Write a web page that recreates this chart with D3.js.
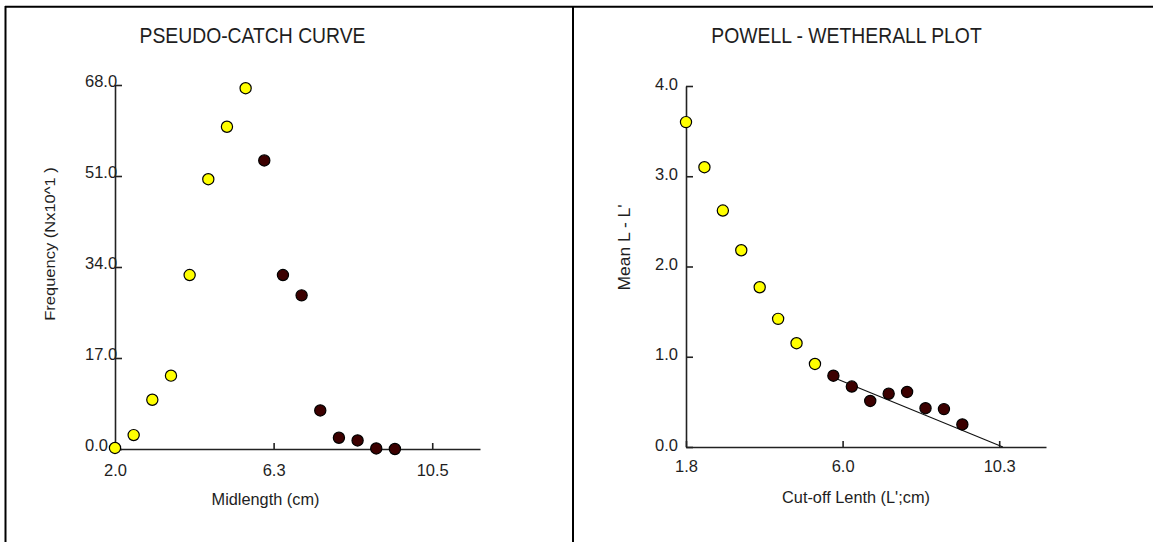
<!DOCTYPE html>
<html>
<head>
<meta charset="utf-8">
<script src="https://cdn.jsdelivr.net/npm/d3@7"></script>
<style>
  body { margin: 0; background: #fff; }
  svg text { font-family: "Liberation Sans", Arial, sans-serif; fill: #1e1e1e; }
</style>
</head>
<body>
<div id="chart"></div>
<script>
// Pseudo-catch curve (left panel)
const catchXTicks = [2.0, 6.25, 10.5];
const catchXTickLabels = ['2.0', '6.3', '10.5'];
const catchYTicks = [0, 17, 34, 51, 68];
const catchOpenX = [2.0, 2.5, 3.0, 3.5, 4.0, 4.5, 5.0, 5.5];
const catchOpenY = [0.2, 2.6, 9.2, 13.7, 32.5, 50.4, 60.2, 67.4];
const catchUsedX = [6.0, 6.5, 7.0, 7.5, 8.0, 8.5, 9.0, 9.5];
const catchUsedY = [53.9, 32.5, 28.7, 7.2, 2.1, 1.6, 0.1, 0.0];

// Powell - Wetherall plot (right panel)
const pwXTicks = [1.75, 6.0, 10.25];
const pwXTickLabels = ['1.8', '6.0', '10.3'];
const pwYTicks = [0, 1, 2, 3, 4];
const pwOpenX = [1.75, 2.25, 2.75, 3.25, 3.75, 4.25, 4.75, 5.25];
const pwOpenY = [3.60, 3.10, 2.62, 2.18, 1.77, 1.42, 1.15, 0.92];
const pwUsedX = [5.75, 6.25, 6.75, 7.25, 7.75, 8.25, 8.75, 9.25];
const pwUsedY = [0.79, 0.67, 0.51, 0.59, 0.61, 0.43, 0.42, 0.25];
const pwFitX = [5.75, 10.35];
const pwFitY = [0.77, 0.0];

const width = 1153, height = 542;
const svg = d3.select('#chart').append('svg')
    .attr('width', width)
    .attr('height', height);

// outer frame and divider
const frame = svg.append('g').attr('stroke', '#000').attr('stroke-width', 2);
frame.append('line').attr('x1', 5).attr('x2', width).attr('y1', 6.8).attr('y2', 6.8);
frame.append('line').attr('x1', 5.5).attr('x2', 5.5).attr('y1', 6).attr('y2', height);
frame.append('line').attr('x1', 573).attr('x2', 573).attr('y1', 6).attr('y2', height);

function label(g, str, x, y, size, sx, rot) {
    let t = `translate(${x},${y})`;
    if (rot) t += ` rotate(${rot}) scale(1,${sx})`;
    else t += ` scale(${sx},1)`;
    return g.append('text')
        .attr('transform', t)
        .attr('text-anchor', 'middle')
        .attr('font-size', size)
        .text(str);
}

function panel(p) {
    const g = svg.append('g');
    const x = d3.scaleLinear().domain(p.xDomain).range([p.left, p.right]);
    const y = d3.scaleLinear().domain(p.yDomain).range([p.bottom, p.top]);

    // axes
    const xAxis = g.append('g')
        .attr('transform', `translate(0,${p.bottom})`)
        .call(d3.axisBottom(x).tickValues(p.xTicks).tickSize(-6).tickSizeOuter(0)
            .tickFormat((d, i) => p.xLabels[i]));
    const yAxis = g.append('g')
        .attr('transform', `translate(${p.left},0)`)
        .call(d3.axisLeft(y).tickValues(p.yTicks).tickSize(-7).tickSizeOuter(0)
            .tickFormat(d3.format('.1f')));

    [xAxis, yAxis].forEach(a => {
        a.attr('font-family', null).attr('font-size', null);
        a.selectAll('path, line').attr('stroke', '#222').attr('stroke-width', 1.6);
        a.selectAll('text').attr('font-size', 16.5).attr('fill', '#1e1e1e');
    });
    xAxis.selectAll('text').attr('y', p.xLabelDy).attr('dy', null);
    yAxis.selectAll('text').attr('x', -p.yLabelOff).attr('y', p.yLabelDy)
        .attr('dy', null).attr('text-anchor', 'start');

    // fitted line
    if (p.fitX) {
        g.append('path')
            .datum(p.fitX.map((v, i) => [v, p.fitY[i]]))
            .attr('fill', 'none')
            .attr('stroke', '#111')
            .attr('stroke-width', 1.1)
            .attr('d', d3.line().x(d => x(d[0])).y(d => y(d[1])));
    }

    // points
    const pts = [
        { xs: p.openX, ys: p.openY, fill: '#ffff00' },
        { xs: p.usedX, ys: p.usedY, fill: '#3c0000' }
    ];
    pts.forEach(s => {
        g.append('g').selectAll('circle')
            .data(s.xs.map((v, i) => [v, s.ys[i]]))
            .join('circle')
            .attr('cx', d => x(d[0]))
            .attr('cy', d => y(d[1]))
            .attr('r', 5.6)
            .attr('fill', s.fill)
            .attr('stroke', '#000')
            .attr('stroke-width', 1.2);
    });

    // texts
    label(g, p.title, p.titleX, 42.5, 21.5, 0.9);
    label(g, p.xTitle, p.xTitleX, p.xTitleY, 17, 0.96);
    label(g, p.yTitle, p.yTitleX, p.yTitleY, p.yTitleSize, 0.9, -90);
}

panel({
    xDomain: [2.0, 11.78], yDomain: [0, 68],
    left: 115, right: 480, bottom: 449, top: 85,
    xTicks: catchXTicks, xLabels: catchXTickLabels, yTicks: catchYTicks,
    xLabelDy: 27, yLabelOff: 30, yLabelDy: 1.5,
    openX: catchOpenX, openY: catchOpenY, usedX: catchUsedX, usedY: catchUsedY,
    title: 'PSEUDO-CATCH CURVE', titleX: 252.5,
    xTitle: 'Midlength (cm)', xTitleX: 265.5, xTitleY: 505,
    yTitle: 'Frequency (Nx10^1 )', yTitleX: 55, yTitleY: 244, yTitleSize: 16.5
});

panel({
    xDomain: [1.75, 11.52], yDomain: [0, 4],
    left: 686, right: 1046, bottom: 447, top: 86,
    xTicks: pwXTicks, xLabels: pwXTickLabels, yTicks: pwYTicks,
    xLabelDy: 24.5, yLabelOff: 31, yLabelDy: 3,
    openX: pwOpenX, openY: pwOpenY, usedX: pwUsedX, usedY: pwUsedY,
    fitX: pwFitX, fitY: pwFitY,
    title: 'POWELL - WETHERALL PLOT', titleX: 846.5,
    xTitle: "Cut-off Lenth (L';cm)", xTitleX: 856, xTitleY: 502.5,
    yTitle: "Mean L - L'", yTitleX: 629.5, yTitleY: 247.5, yTitleSize: 17.5
});
</script>
</body>
</html>
